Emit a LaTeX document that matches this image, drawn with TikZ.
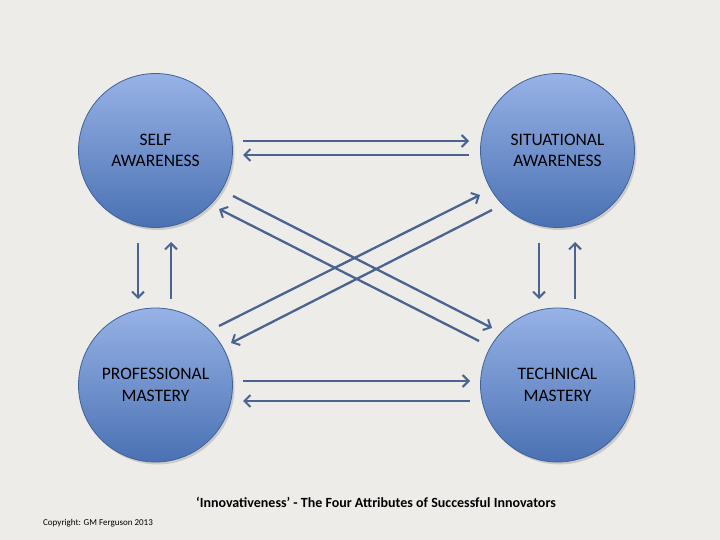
\documentclass[tikz,border=0pt]{standalone}
\usepackage{fontspec}
\setmainfont{Carlito}
\usetikzlibrary{arrows.meta,shadows}
\definecolor{bg}{HTML}{EEECE9}
\definecolor{ctop}{HTML}{97B2E6}
\definecolor{cbot}{HTML}{4A71B3}
\definecolor{cborder}{HTML}{3F6299}
\definecolor{arr}{HTML}{4A6391}
\tikzset{
  attr/.style={circle, minimum size=154pt, inner sep=0pt, draw=cborder, line width=0.8pt,
    top color=ctop, bottom color=cbot, align=center, text=black,
    font=\fontsize{17.5}{21.5}\selectfont,
    drop shadow={shadow xshift=2pt, shadow yshift=-2.5pt, opacity=0.25, fill=black!60}},
  link/.style={draw=arr, line width=2.3pt, -{Straight Barb[length=6pt,width=12pt,line width=2pt]}},
}
\begin{document}
\begin{tikzpicture}[x=1pt,y=-1pt]
\fill[bg] (0,0) rectangle (720,540);
\useasboundingbox (0,0) rectangle (720,540);
\node[attr] (sa) at (155.5,150.5) {SELF\\AWARENESS};
\node[attr] (sita) at (557.5,150.5) {SITUATIONAL\\AWARENESS};
\node[attr] (pm) at (155.5,385) {PROFESSIONAL\\MASTERY};
\node[attr] (tm) at (557.5,385) {TECHNICAL\\MASTERY};
% top horizontal
\coordinate (a1s) at (243,141); \coordinate (a1e) at (469,141);
\coordinate (a2s) at (469,155); \coordinate (a2e) at (243,155);
% bottom horizontal
\coordinate (b1s) at (243,381); \coordinate (b1e) at (470,381);
\coordinate (b2s) at (470,401); \coordinate (b2e) at (243,401);
% left vertical
\coordinate (l1s) at (138,243); \coordinate (l1e) at (138,299);
\coordinate (l2s) at (171,299); \coordinate (l2e) at (171,242);
% right vertical
\coordinate (r1s) at (539,243); \coordinate (r1e) at (539,299);
\coordinate (r2s) at (575,299); \coordinate (r2e) at (575,242);
% diagonals
\coordinate (d1s) at (233,196); \coordinate (d1e) at (492,328);
\coordinate (d2s) at (479,341); \coordinate (d2e) at (219,209);
\coordinate (d3s) at (219,326); \coordinate (d3e) at (480,195);
\coordinate (d4s) at (492,210); \coordinate (d4e) at (231,343);
\foreach \p in {a1,a2,b1,b2,l1,l2,r1,r2,d1,d2,d3,d4}{
  \draw[link] (\p s) -- (\p e);
}
\node[font=\bfseries\fontsize{14}{16}\selectfont, anchor=base] (title) at (376,507)
  {‘Innovativeness’ - The Four Attributes of Successful Innovators};
\node[font=\fontsize{9}{11}\selectfont, anchor=base west, inner sep=0pt] (copy) at (43,525)
  {Copyright: GM Ferguson 2013};
\end{tikzpicture}
\end{document}
